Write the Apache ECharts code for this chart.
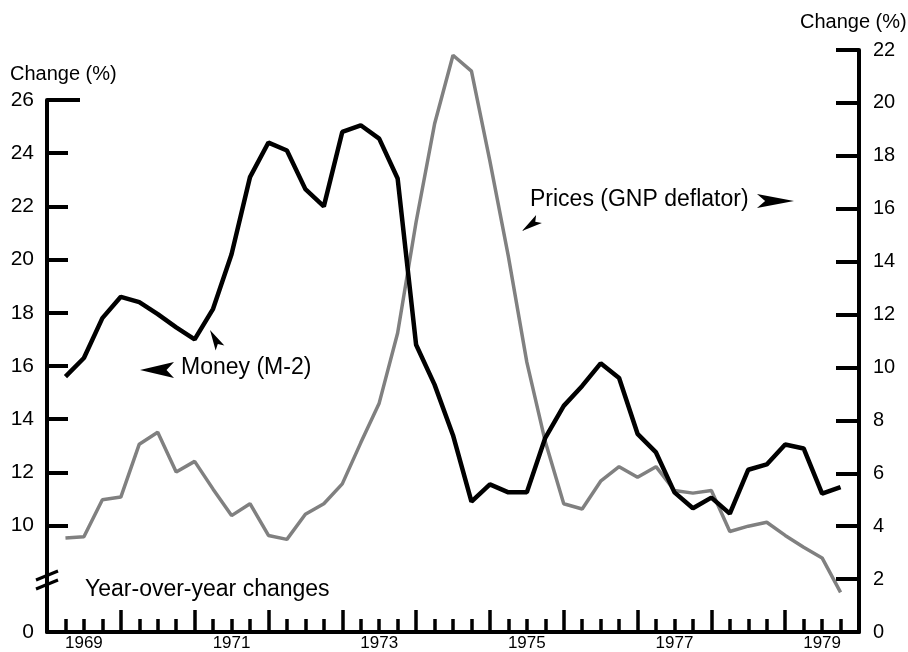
<!DOCTYPE html>
<html>
<head>
<meta charset="utf-8">
<script src="https://cdn.jsdelivr.net/npm/echarts@6/dist/echarts.min.js"></script>
<style>
  html, body { margin: 0; padding: 0; background: #fff; }
  #chart { width: 908px; height: 652px; }
</style>
</head>
<body>
<div id="chart"></div>
<script>
// quarterly observations, year-over-year % change
const quarters = [
  1969.25, 1969.5, 1969.75,
  1970, 1970.25, 1970.5, 1970.75,
  1971, 1971.25, 1971.5, 1971.75,
  1972, 1972.25, 1972.5, 1972.75,
  1973, 1973.25, 1973.5, 1973.75,
  1974, 1974.25, 1974.5, 1974.75,
  1975, 1975.25, 1975.5, 1975.75,
  1976, 1976.25, 1976.5, 1976.75,
  1977, 1977.25, 1977.5, 1977.75,
  1978, 1978.25, 1978.5, 1978.75,
  1979, 1979.25, 1979.5, 1979.75
];

// left scale
const money = [
  15.6, 16.3, 17.8,
  18.6, 18.4, 17.95, 17.45,
  17.0, 18.15, 20.2, 23.1,
  24.4, 24.1, 22.65, 22.0,
  24.8, 25.05, 24.55, 23.05,
  16.8, 15.3, 13.4, 10.9,
  11.55, 11.25, 11.25, 13.3,
  14.5, 15.25, 16.1, 15.55,
  13.45, 12.75, 11.25, 10.65,
  11.05, 10.45, 12.1, 12.3,
  13.05, 12.9, 11.2, 11.45
];

// right scale
const prices = [
  3.55, 3.6, 5.0,
  5.1, 7.1, 7.55, 6.05,
  6.45, 5.4, 4.4, 4.85,
  3.65, 3.5, 4.45, 4.85,
  5.6, 7.15, 8.65, 11.3,
  15.5, 19.2, 21.8, 21.2,
  17.8, 14.2, 10.2, 7.2,
  4.85, 4.65, 5.7, 6.25,
  5.85, 6.25, 5.35, 5.25,
  5.35, 3.8, 4.0, 4.15,
  3.65, 3.2, 2.8, 1.5
];

const labelYears = [1969, 1971, 1973, 1975, 1977, 1979];
const leftTicks = [10, 12, 14, 16, 18, 20, 22, 24];
const leftLabels = [10, 12, 14, 16, 18, 20, 22, 24, 26];
const leftBreakZero = 6; // bottom of left scale, printed as 0 below the break

const FONT = "'Liberation Sans', Arial, sans-serif";
const INK = "#000";

const chart = echarts.init(document.getElementById("chart"));

function arrowHead(tip, base, halfWidth) {
  const dx = tip[0] - base[0];
  const dy = tip[1] - base[1];
  const len = Math.hypot(dx, dy);
  const ux = dx / len, uy = dy / len;
  const px = -uy, py = ux;
  const notch = [tip[0] - ux * len * 0.78, tip[1] - uy * len * 0.78];
  return {
    type: "polygon",
    shape: {
      points: [
        tip,
        [base[0] + px * halfWidth, base[1] + py * halfWidth],
        notch,
        [base[0] - px * halfWidth, base[1] - py * halfWidth]
      ]
    },
    style: { fill: INK },
    z: 20
  };
}

function label(text, x, y, size) {
  return {
    type: "text",
    x: x,
    y: y,
    style: {
      text: text,
      font: size + "px " + FONT,
      fill: INK,
      align: "left",
      verticalAlign: "middle",
      textAlign: "left",
      textVerticalAlign: "middle"
    },
    z: 20
  };
}

chart.setOption({
  animation: false,
  backgroundColor: "#fff",
  grid: [
    { left: 47, right: 49, top: 100, bottom: 20 },
    { left: 47, right: 49, top: 50, bottom: 20 }
  ],
  xAxis: [
    {
      gridIndex: 0,
      type: "value",
      min: 1969,
      max: 1980,
      show: false
    },
    {
      gridIndex: 1,
      type: "value",
      position: "bottom",
      min: 1969,
      max: 1980,
      interval: 0.25,
      axisLine: { onZero: false, lineStyle: { color: INK, width: 4 } },
      axisTick: { inside: true, length: 13, lineStyle: { color: INK, width: 3.5 } },
      axisLabel: { show: false },
      splitLine: { show: false }
    },
    {
      gridIndex: 1,
      type: "value",
      position: "bottom",
      offset: 0,
      min: 1969,
      max: 1980,
      interval: 1,
      axisLine: { show: false, onZero: false },
      axisTick: {
        inside: true,
        length: 22,
        customValues: [1970, 1971, 1972, 1973, 1974, 1975, 1976, 1977, 1978, 1979],
        lineStyle: { color: INK, width: 3.5 }
      },
      axisLabel: {
        customValues: labelYears.map((y) => y + 0.5),
        formatter: (v) => String(Math.floor(v)),
        color: INK,
        fontFamily: FONT,
        fontSize: 17,
        margin: 3
      },
      splitLine: { show: false }
    }
  ],
  yAxis: [
    {
      gridIndex: 0,
      type: "value",
      position: "left",
      min: leftBreakZero,
      max: 26,
      interval: 2,
      axisLine: { show: true, onZero: false, lineStyle: { color: INK, width: 4 } },
      axisTick: {
        show: true,
        inside: true,
        length: 21,
        customValues: leftTicks,
        lineStyle: { color: INK, width: 4 }
      },
      axisLabel: {
        customValues: [leftBreakZero].concat(leftLabels),
        formatter: (v) => (v === leftBreakZero ? "0" : String(v)),
        color: INK,
        fontFamily: FONT,
        fontSize: 21,
        margin: 13
      },
      splitLine: { show: false }
    },
    {
      gridIndex: 0,
      type: "value",
      position: "left",
      min: leftBreakZero,
      max: 26,
      interval: 2,
      axisLine: { show: false },
      axisTick: {
        show: true,
        inside: true,
        length: 33,
        customValues: [26],
        lineStyle: { color: INK, width: 4 }
      },
      axisLabel: { show: false },
      splitLine: { show: false }
    },
    {
      gridIndex: 1,
      type: "value",
      position: "right",
      min: 0,
      max: 22,
      interval: 2,
      axisLine: { show: true, onZero: false, lineStyle: { color: INK, width: 4 } },
      axisTick: { show: true, inside: true, length: 23, lineStyle: { color: INK, width: 4 } },
      axisLabel: {
        color: INK,
        fontFamily: FONT,
        fontSize: 20,
        margin: 14
      },
      splitLine: { show: false }
    }
  ],
  series: [
    {
      name: "Prices (GNP deflator)",
      type: "line",
      xAxisIndex: 1,
      yAxisIndex: 2,
      data: quarters.map((q, i) => [q, prices[i]]),
      symbol: "none",
      lineStyle: { color: "#808080", width: 3.5 },
      z: 3
    },
    {
      name: "Money (M-2)",
      type: "line",
      xAxisIndex: 0,
      yAxisIndex: 0,
      data: quarters.map((q, i) => [q, money[i]]),
      symbol: "none",
      lineStyle: { color: INK, width: 4.5 },
      z: 4
    }
  ],
  graphic: [
    label("Change (%)", 10, 74, 20),
    label("Change (%)", 800, 22, 20),
    label("Money (M-2)", 181, 368, 23),
    label("Prices (GNP deflator)", 530, 200, 23),
    label("Year-over-year changes", 85, 590, 23),
    // axis break on the left scale
    { type: "line", shape: { x1: 36, y1: 580, x2: 58, y2: 571 }, style: { stroke: INK, lineWidth: 3 }, z: 20 },
    { type: "line", shape: { x1: 36, y1: 589, x2: 58, y2: 580 }, style: { stroke: INK, lineWidth: 3 }, z: 20 },
    // pointers to the series
    arrowHead([140, 370], [174, 370], 8),
    arrowHead([794, 201], [757, 201], 7),
    arrowHead([210, 330], [220, 348], 5),
    arrowHead([522, 231], [539, 219], 5)
  ]
});
</script>
</body>
</html>
